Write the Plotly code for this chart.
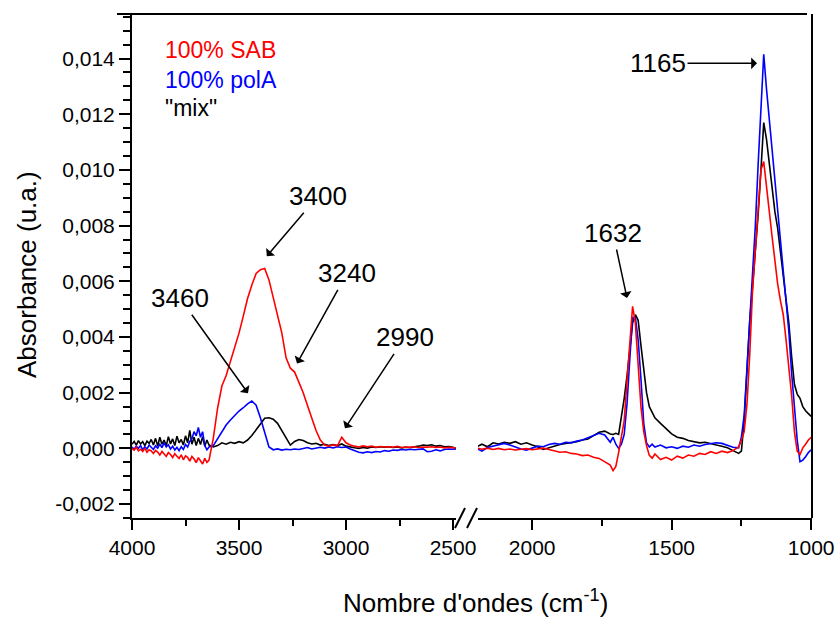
import plotly.graph_objects as go

# ---------------------------------------------------------------------------
# FTIR spectra (absorbance values below are in units of 1e-4 u.a.)
# High-wavenumber window 4000-2480 cm-1 and fingerprint window 2200-1000 cm-1
# ---------------------------------------------------------------------------
wn_high = list(range(4000, 3639, -10)) + list(range(3620, 2479, -20))
wn_low = (list(range(2200, 1719, -20)) + list(range(1710, 1559, -10))
          + list(range(1540, 1259, -20)) + list(range(1250, 999, -10)))

sab_high = [0.0, -0.6, 0.4, -0.9, -0.3, -1.1, 0.1, -1.4, -0.5, -0.9, -1.8, -0.7, -1.3,
            -2.4, -1.1, -2.0, -2.9, -1.5, -2.2, -3.3, -1.9, -2.8, -3.6, -2.3, -4.1, -2.7,
            -3.2, -4.6, -2.9, -3.8, -5.1, -3.3, -4.4, -5.6, -3.6, -5.0, -4.2,
            3.7, 14.5, 22.4, 26.2, 31.0, 36.0, 41.4, 47.5, 53.8, 58.7,
            62.8, 64.2, 64.6, 60.5, 54.5, 48.5, 41.5, 32.5, 28.8, 27.4,
            24.0, 20.0, 15.4, 10.6, 6.4, 3.0, 1.2, 0.8, 1.3, 0.9,
            4.0, 2.0, 1.2, 0.8, 0.5, 0.9, 0.6, 0.8, 0.4, 0.7,
            0.5, 0.6, 0.4, 0.7, 0.3, 0.5, 0.4, 0.6, 0.3, 0.5,
            0.4, 0.6, 0.3, 0.5, 0.2, 0.4, 0.3, 0.1]
pola_high = [0.5, -0.3, 0.8, 0.0, 1.0, -0.5, 0.6, -0.2, 1.2, 0.2, -0.4, 0.9, 0.1, 1.5,
             0.3, 2.0, 0.5, 1.3, -0.2, 0.8, -0.6, 0.4, -0.8, 0.6, -0.4, 1.4, 0.5, 2.5,
             3.5, 6.0, 4.5, 7.5, 4.0, 6.0, 1.0, -0.5, 0.5,
             1.0, 3.5, 6.2, 8.4, 10.2, 12.0, 13.4, 14.6, 16.0, 17.0,
             15.5, 11.0, 6.0, 0.5, -0.5, -0.2, -0.6, -0.3, -0.5, -0.2,
             -0.4, 0.0, 0.3, -0.2, 0.2, 0.4, 0.1, 0.5, 0.2, 0.6,
             0.3, 0.5, -0.2, -0.8, -1.4, -1.6, -1.2, -1.5, -1.1, -1.3,
             -0.8, -1.0, -0.6, -0.7, -0.4, -0.6, -0.3, -0.5, -0.4, -0.2,
             -1.2, -1.0, -0.5, -0.9, -0.4, -0.2, -0.3, 0.0]
mix_high = [1.5, 2.5, 1.2, 2.8, 1.6, 2.4, 1.0, 2.6, 1.8, 3.2, 1.2, 3.6, 0.8, 4.0, 1.5,
            3.0, 0.9, 4.2, 1.6, 3.4, 1.0, 4.4, 2.0, 3.2, 1.2, 4.5, 2.0, 6.5, 1.5, 4.0,
            1.0, 3.6, 1.4, 4.2, 0.8, 3.0, 1.2,
            0.5, 1.0, 2.0, 1.5, 2.2, 1.8, 2.4, 2.0, 3.0, 4.6,
            6.8, 9.0, 10.8, 11.0, 10.5, 9.0, 6.5, 3.5, 1.2, 2.5,
            3.2, 2.8, 2.0, 1.6, 1.8, 1.2, 1.5, 1.0, 1.4, 1.0,
            1.6, 0.8, 0.4, 0.2, 0.0, 0.3, 0.1, 0.5, 0.3, 0.6,
            0.4, 0.6, 0.3, 0.5, 0.2, 0.4, 0.3, 0.5, 0.8, 1.2,
            1.0, 1.3, 0.8, 1.0, 0.6, 0.7, 0.4, -0.5]

sab_low = [0.2, -0.3, 0.1, -0.4, 0.0, -0.5, -0.2, -0.6, -0.3, -0.1, -0.5, -0.2, 0.1,
           -0.4, -1.0, -1.4, -1.2, -1.8, -2.0, -2.6, -2.4, -3.2, -3.6, -4.8, -6.0,
           -8.0, -6.5, -1.5, 4.0, 10.0, 24.0, 38.0, 51.0, 45.0, 30.0, 15.0, 6.0, 1.0,
           -2.5, -3.5, -2.0,
           -4.0, -3.2, -4.2, -2.8, -3.5, -2.4, -2.8, -1.8, -2.2, -1.2, -1.8, -1.0,
           -1.5, -0.8, 0.5,
           3.0, 6.0, 16.0, 34.0, 57.0, 72.0, 85.0, 100.0, 103.0, 93.0, 85.0, 76.0,
           67.0, 59.0, 53.0, 48.0, 39.0, 29.0, 19.0, 6.0, -1.0, -2.2, 0.2, 1.5, 3.0, 4.0]
pola_low = [0.0, -1.0, 0.3, 0.8, 1.5, 1.8, 1.2, 0.4, -0.2, -0.6, 0.2, 0.8, 0.6, 1.4,
            1.8, 1.5, 2.2, 2.0, 2.6, 3.0, 3.8, 4.6, 5.4, 4.8, 2.2,
            4.0, 1.5, 0.0, 1.5, 5.0, 16.0, 32.0, 47.0, 47.0, 39.0, 25.0, 9.0, 2.0,
            0.5, 1.5, 0.5,
            1.2, 0.2, 0.6, 0.0, 0.8, 0.4, 1.2, 0.8, 1.4, 1.6, 2.0, 1.8, 1.0, 0.4, 0.2,
            4.0, 12.0, 28.0, 46.0, 60.0, 80.0, 102.0, 124.0, 141.5, 129.0, 118.0,
            107.0, 96.0, 85.0, 74.0, 63.0, 52.0, 42.0, 27.0, 14.0, 3.0, -4.8, -4.2,
            -3.0, -1.5, -0.5]
mix_low = [0.5, 1.5, 0.6, 2.0, 1.6, 2.2, 1.8, 2.4, 1.5, 2.0, 1.2, 0.6, -0.4, 0.2,
           1.0, 1.4, 1.8, 2.0, 2.4, 3.0, 3.4, 4.6, 5.8, 6.2, 5.2,
           5.0, 5.4, 5.0, 11.0, 18.0, 26.0, 36.0, 45.0, 48.0, 46.0, 37.0, 29.0, 20.0,
           15.0, 13.0, 11.0,
           9.0, 7.0, 5.2, 4.0, 3.6, 2.8, 2.4, 2.0, 2.2, 1.6, 1.2, 0.8, 0.2, -0.8, -1.8,
           -1.0, 10.0, 28.0, 46.0, 58.0, 70.0, 84.0, 100.0, 117.0, 111.0, 102.0,
           93.0, 85.0, 79.0, 71.0, 61.0, 53.0, 45.0, 33.0, 23.0, 19.5, 18.0, 15.0,
           13.5, 12.5, 11.5]

SCALE = 1e-4

series = [
    ("\"mix\"", "#000000", mix_high, mix_low),
    ("100% polA", "#0000ff", pola_high, pola_low),
    ("100% SAB", "#ff0000", sab_high, sab_low),
]

y_ticks = [-0.002, 0.0, 0.002, 0.004, 0.006, 0.008, 0.010, 0.012, 0.014]
y_ticktext = ["-0,002", "0,000", "0,002", "0,004", "0,006", "0,008", "0,010", "0,012", "0,014"]
x_high_ticks = [4000, 3500, 3000, 2500]
x_high_minor = [3750, 3250, 2750]
x_low_ticks = [2000, 1500, 1000]
x_low_minor = [1750, 1250]

# peak labels: (text, axis, wavenumber, absorbance, label dx, label dy in px)
peak_labels = [
    ("3400", "x", 3370, 0.0069, 51, -60),
    ("3240", "x", 3229, 0.00305, 50, -90),
    ("3460", "x", 3458, 0.00198, -68, -95),
    ("2990", "x", 3005, 0.00072, 60, -91),
    ("1632", "x2", 1660, 0.0054, -14, -65),
    ("1165", "x2", 1194, 0.01383, -99, 0),
]

W, H = 840, 619
FONT = "Liberation Sans, Arial, Helvetica, sans-serif"


def px(x):
    return x / W


def py(y):
    return 1 - y / H


fig = go.Figure()
for name, color, hi, lo in series:
    fig.add_trace(go.Scatter(x=wn_high, y=[v * SCALE for v in hi], mode="lines",
                             line=dict(color=color, width=1.6), name=name,
                             xaxis="x", yaxis="y", showlegend=False))
    fig.add_trace(go.Scatter(x=wn_low, y=[v * SCALE for v in lo], mode="lines",
                             line=dict(color=color, width=1.6), name=name,
                             xaxis="x2", yaxis="y", showlegend=False))

common_x = dict(showgrid=False, zeroline=False, showline=True, linecolor="black",
                linewidth=2, ticks="outside", ticklen=10, tickwidth=2, tickcolor="black",
                tickfont=dict(family=FONT, size=21, color="black"), automargin=False,
                anchor="y")

fig.update_layout(
    width=W, height=H, margin=dict(l=0, r=0, t=0, b=0), autosize=False,
    paper_bgcolor="white", plot_bgcolor="white", template="none", showlegend=False,
    xaxis=dict(domain=[px(132), px(456)], range=[4000, 2486], tickmode="array",
               tickvals=x_high_ticks, ticktext=[str(v) for v in x_high_ticks],
               minor=dict(tickmode="array", tickvals=x_high_minor, ticks="outside",
                          ticklen=6, tickwidth=2, tickcolor="black"),
               **common_x),
    xaxis2=dict(domain=[px(478), px(812)], range=[2194, 997], tickmode="array",
                tickvals=x_low_ticks, ticktext=[str(v) for v in x_low_ticks],
                minor=dict(tickmode="array", tickvals=x_low_minor, ticks="outside",
                           ticklen=6, tickwidth=2, tickcolor="black"),
                **common_x),
    yaxis=dict(domain=[py(518), py(14)], range=[-0.0025, 0.0156], anchor="x",
               tickmode="array", tickvals=y_ticks, ticktext=y_ticktext,
               showgrid=False, zeroline=False, showline=True, linecolor="black",
               linewidth=2, ticks="outside", ticklen=11, tickwidth=2, tickcolor="black",
               tickfont=dict(family=FONT, size=21, color="black"), automargin=False,
               minor=dict(dtick=0.0005, tick0=0, ticks="outside", ticklen=7,
                          tickwidth=2, tickcolor="black")),
)

# frame: top line and right-hand border
fig.add_shape(type="line", xref="paper", yref="paper", x0=px(117), x1=px(807),
              y0=py(14), y1=py(14), line=dict(color="black", width=2))
fig.add_shape(type="line", xref="paper", yref="paper", x0=px(812), x1=px(812),
              y0=py(14), y1=py(518), line=dict(color="black", width=2))
# axis break marks
for x0 in (455, 467):
    fig.add_shape(type="line", xref="paper", yref="paper", x0=px(x0), x1=px(x0 + 10),
                  y0=py(528), y1=py(508), line=dict(color="black", width=2))

# peak annotations
for text, xr, wx, wy, dx, dy in peak_labels:
    fig.add_annotation(x=wx, y=wy, xref=xr, yref="y", text=text, showarrow=True,
                       ax=dx, ay=dy, axref="pixel", ayref="pixel",
                       arrowhead=1, arrowsize=1.3, arrowwidth=1.5, arrowcolor="black",
                       font=dict(family=FONT, size=26, color="black"))

# series key
for (name, color, _, _), yy in zip(series[::-1], (50, 80, 108)):
    fig.add_annotation(x=px(163), y=py(yy), xref="paper", yref="paper", text=name,
                       showarrow=False, xanchor="left", yanchor="middle",
                       font=dict(family=FONT, size=23, color=color))

# axis titles
fig.add_annotation(x=px(475), y=py(601), xref="paper", yref="paper",
                   text="Nombre d'ondes (cm<sup>-1</sup>)", showarrow=False,
                   xanchor="center", yanchor="middle",
                   font=dict(family=FONT, size=26, color="black"))
fig.add_annotation(x=px(27), y=py(275), xref="paper", yref="paper",
                   text="Absorbance (u.a.)", showarrow=False, textangle=-90,
                   xanchor="center", yanchor="middle",
                   font=dict(family=FONT, size=26, color="black"))

fig.write_html("out.html")
